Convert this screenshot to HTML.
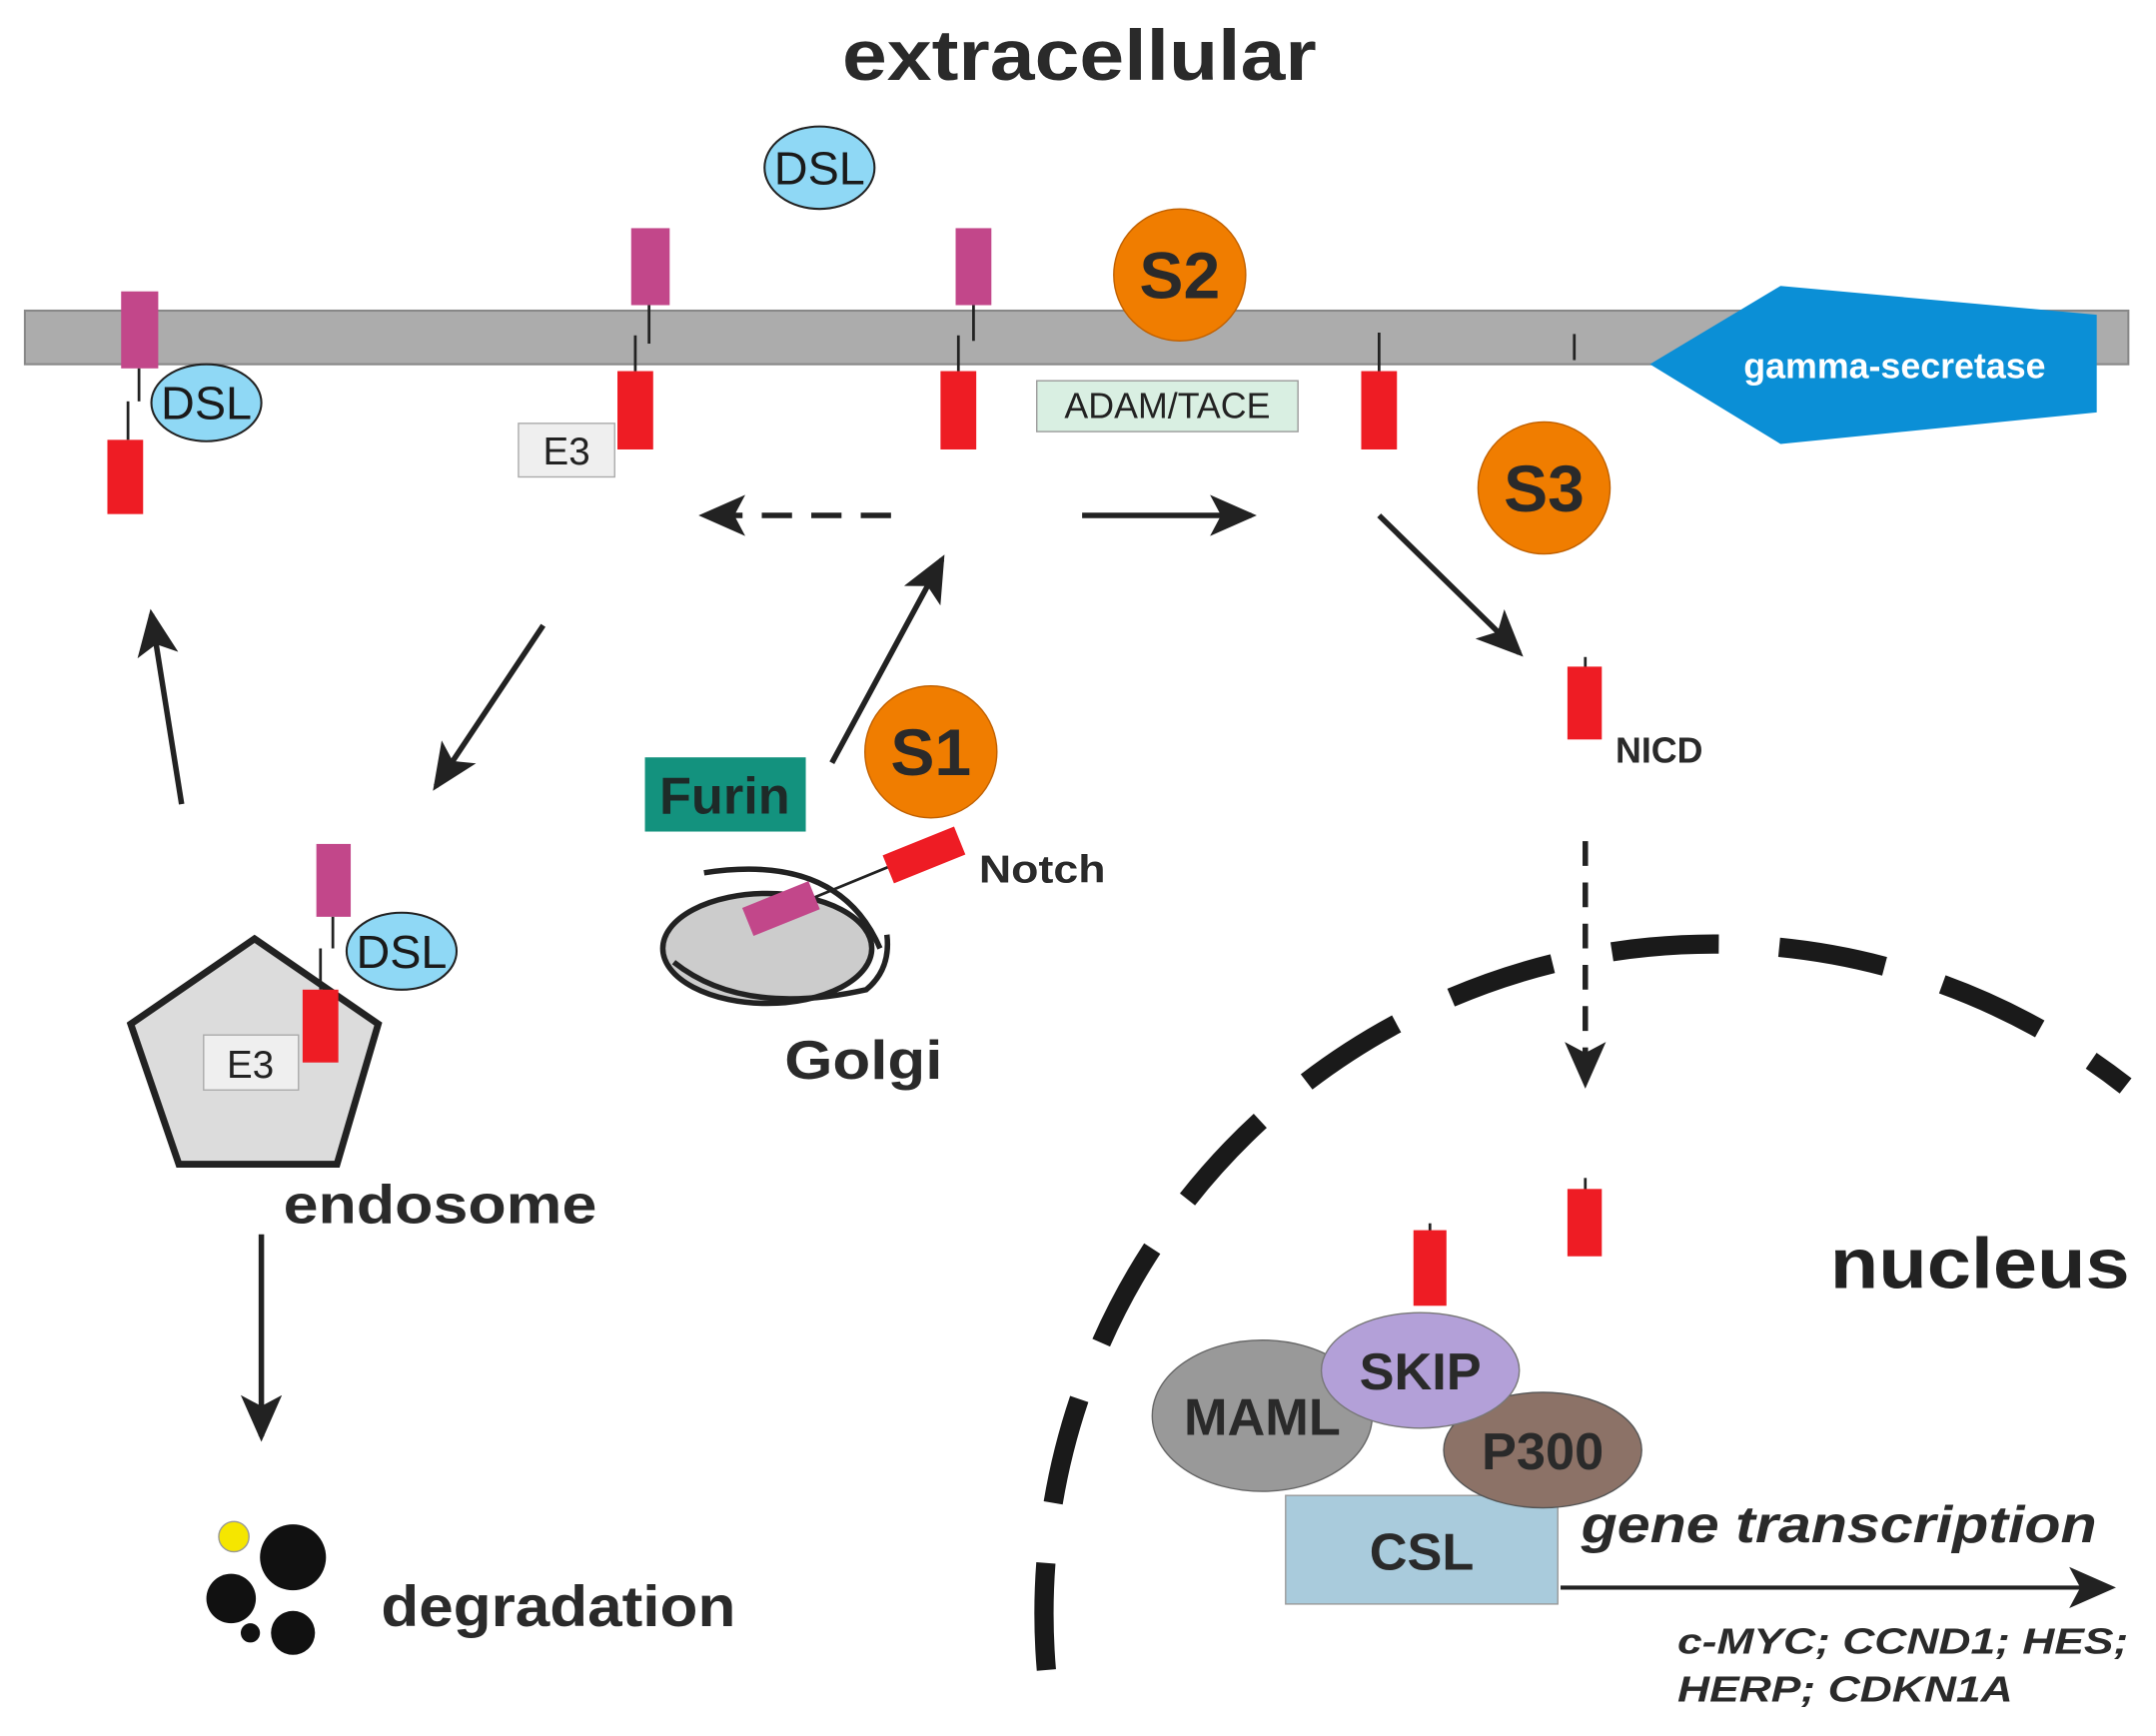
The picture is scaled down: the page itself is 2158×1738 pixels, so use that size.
<!DOCTYPE html>
<html><head><meta charset="utf-8"><style>html,body{margin:0;padding:0;background:#fff}svg{display:block}</style></head>
<body>
<svg width="2158" height="1738" viewBox="0 0 1568 1263" xmlns="http://www.w3.org/2000/svg" font-family="Liberation Sans, sans-serif">
<defs>
<marker id="ahb" markerWidth="36" markerHeight="30" refX="30" refY="15" orient="auto" markerUnits="userSpaceOnUse"><path d="M0,0 L34,15 L0,30 L8,15 z" fill="#222"/></marker>
</defs>
<rect width="1568" height="1263" fill="#fff"/>
<text x="785" y="58" text-anchor="middle" font-size="52" font-weight="bold" fill="#2a2a2a" textLength="345" lengthAdjust="spacingAndGlyphs">extracellular</text>
<rect x="18" y="226" width="1530" height="39" fill="#acacac" stroke="#888" stroke-width="1.5"/>
<polygon points="1200,265 1295,208 1525,229 1525,300 1295,323" fill="#0b8fd6"/>
<text x="1378" y="275" text-anchor="middle" font-size="26" font-weight="bold" fill="#fff">gamma-secretase</text>
<ellipse cx="596" cy="122" rx="40" ry="30" fill="#8fd8f5" stroke="#222" stroke-width="1.5"/>
<text x="596" y="134" text-anchor="middle" font-size="34" fill="#1a1a1a">DSL</text>
<rect x="88" y="212" width="27" height="56" fill="#c2478a"/>
<line x1="101" y1="268" x2="101" y2="292" stroke="#222" stroke-width="2"/>
<line x1="93" y1="292" x2="93" y2="320" stroke="#222" stroke-width="2"/>
<ellipse cx="150" cy="293" rx="40" ry="28" fill="#8fd8f5" stroke="#222" stroke-width="1.5"/>
<text x="150" y="305" text-anchor="middle" font-size="34" fill="#1a1a1a">DSL</text>
<rect x="78" y="320" width="26" height="54" fill="#ee1c24"/>
<rect x="459" y="166" width="28" height="56" fill="#c2478a"/>
<line x1="472" y1="222" x2="472" y2="250" stroke="#222" stroke-width="2"/>
<line x1="462" y1="244" x2="462" y2="270" stroke="#222" stroke-width="2"/>
<rect x="449" y="270" width="26" height="57" fill="#ee1c24"/>
<rect x="377" y="308" width="70" height="39" fill="#efefef" stroke="#aaa"/>
<text x="412" y="338" text-anchor="middle" font-size="28" fill="#222">E3</text>
<rect x="695" y="166" width="26" height="56" fill="#c2478a"/>
<line x1="708" y1="222" x2="708" y2="248" stroke="#222" stroke-width="2"/>
<line x1="697" y1="244" x2="697" y2="270" stroke="#222" stroke-width="2"/>
<rect x="684" y="270" width="26" height="57" fill="#ee1c24"/>
<rect x="754" y="277" width="190" height="37" fill="#d9efe2" stroke="#999"/>
<text x="849" y="304" text-anchor="middle" font-size="26" fill="#222">ADAM/TACE</text>
<line x1="1003" y1="242" x2="1003" y2="270" stroke="#222" stroke-width="2"/>
<rect x="990" y="270" width="26" height="57" fill="#ee1c24"/>
<line x1="1145" y1="243" x2="1145" y2="262" stroke="#222" stroke-width="2"/>
<circle cx="858" cy="200" r="48" fill="#f07d00" stroke="#c06000"/>
<text x="858" y="217" text-anchor="middle" font-size="48" font-weight="bold" fill="#2a2a2a">S2</text>
<circle cx="1123" cy="355" r="48" fill="#f07d00" stroke="#c06000"/>
<text x="1123" y="372" text-anchor="middle" font-size="48" font-weight="bold" fill="#2a2a2a">S3</text>
<circle cx="677" cy="547" r="48" fill="#f07d00" stroke="#c06000"/>
<text x="677" y="564" text-anchor="middle" font-size="48" font-weight="bold" fill="#2a2a2a">S1</text>
<g stroke="#222" stroke-width="4" fill="none">
<line x1="648" y1="375" x2="512" y2="375" stroke-dasharray="22,14" marker-end="url(#ahb)"/>
<line x1="787" y1="375" x2="910" y2="375" marker-end="url(#ahb)"/>
<line x1="1003" y1="375" x2="1105" y2="475" marker-end="url(#ahb)"/>
<line x1="605" y1="555" x2="685" y2="407" marker-end="url(#ahb)"/>
<line x1="395" y1="455" x2="317" y2="572" marker-end="url(#ahb)"/>
<line x1="132" y1="585" x2="110" y2="447" marker-end="url(#ahb)"/>
<line x1="190" y1="898" x2="190" y2="1045" marker-end="url(#ahb)"/>
<line x1="1153" y1="612" x2="1153" y2="788" stroke-dasharray="18,12" marker-end="url(#ahb)"/>
</g>
<line x1="1153" y1="478" x2="1153" y2="486" stroke="#222" stroke-width="2"/>
<rect x="1140" y="485" width="25" height="53" fill="#ee1c24"/>
<text x="1175" y="555" font-size="26" font-weight="bold" fill="#2a2a2a">NICD</text>
<line x1="1153" y1="857" x2="1153" y2="866" stroke="#222" stroke-width="2"/>
<rect x="1140" y="865" width="25" height="49" fill="#ee1c24"/>
<path d="M761,1215 A487,487 0 0 1 1546,790" fill="none" stroke="#1a1a1a" stroke-width="14" stroke-dasharray="78,44"/>
<text x="1440" y="937" text-anchor="middle" font-size="52" font-weight="bold" fill="#222" textLength="218" lengthAdjust="spacingAndGlyphs">nucleus</text>
<rect x="935" y="1088" width="198" height="79" fill="#a9cbdc" stroke="#999"/>
<text x="1034" y="1142" text-anchor="middle" font-size="38" font-weight="bold" fill="#2a2a2a">CSL</text>
<ellipse cx="918" cy="1030" rx="80" ry="55" fill="#999" stroke="#666"/>
<text x="918" y="1044" text-anchor="middle" font-size="38" font-weight="bold" fill="#2a2a2a">MAML</text>
<ellipse cx="1122" cy="1055" rx="72" ry="42" fill="#8c7267" stroke="#555"/>
<text x="1122" y="1069" text-anchor="middle" font-size="38" font-weight="bold" fill="#2a2a2a">P300</text>
<line x1="1040" y1="890" x2="1040" y2="896" stroke="#222" stroke-width="2"/>
<rect x="1028" y="895" width="24" height="55" fill="#ee1c24"/>
<ellipse cx="1033" cy="997" rx="72" ry="42" fill="#b3a0d8" stroke="#777"/>
<text x="1033" y="1011" text-anchor="middle" font-size="38" font-weight="bold" fill="#2a2a2a">SKIP</text>
<line x1="1135" y1="1155" x2="1535" y2="1155" stroke="#222" stroke-width="3" marker-end="url(#ahb)"/>
<text x="1150" y="1122" font-size="38" font-weight="bold" font-style="italic" fill="#2a2a2a" textLength="375" lengthAdjust="spacingAndGlyphs">gene transcription</text>
<text x="1220" y="1203" font-size="26" font-weight="bold" font-style="italic" fill="#2a2a2a" textLength="328" lengthAdjust="spacingAndGlyphs">c-MYC; CCND1; HES;</text>
<text x="1220" y="1238" font-size="26" font-weight="bold" font-style="italic" fill="#2a2a2a" textLength="244" lengthAdjust="spacingAndGlyphs">HERP; CDKN1A</text>
<rect x="469" y="551" width="117" height="54" fill="#13927e"/>
<text x="527" y="592" text-anchor="middle" font-size="38" font-weight="bold" fill="#1e2a28">Furin</text>
<ellipse cx="558" cy="690" rx="76" ry="40" fill="#ccc" stroke="#222" stroke-width="4"/>
<path d="M512,635 Q610,620 640,690" fill="none" stroke="#222" stroke-width="4"/>
<path d="M490,700 Q540,740 630,720 Q648,705 645,680" fill="none" stroke="#222" stroke-width="4"/>
<line x1="575" y1="660" x2="660" y2="625" stroke="#222" stroke-width="2"/>
<rect x="-26" y="-11" width="52" height="22" fill="#c2478a" transform="translate(568,661) rotate(-22)"/>
<rect x="-28" y="-11" width="56" height="22" fill="#ee1c24" transform="translate(672,622) rotate(-22)"/>
<text x="712" y="642" font-size="28" font-weight="bold" fill="#2a2a2a" textLength="92" lengthAdjust="spacingAndGlyphs">Notch</text>
<text x="628" y="785" text-anchor="middle" font-size="40" font-weight="bold" fill="#2a2a2a" textLength="115" lengthAdjust="spacingAndGlyphs">Golgi</text>
<polygon points="185,683 275,745 245,847 130,847 95,745" fill="#dcdcdc" stroke="#222" stroke-width="5"/>
<rect x="230" y="614" width="25" height="53" fill="#c2478a"/>
<line x1="242" y1="667" x2="242" y2="690" stroke="#222" stroke-width="2"/>
<line x1="233" y1="690" x2="233" y2="720" stroke="#222" stroke-width="2"/>
<ellipse cx="292" cy="692" rx="40" ry="28" fill="#8fd8f5" stroke="#222" stroke-width="1.5"/>
<text x="292" y="704" text-anchor="middle" font-size="34" fill="#1a1a1a">DSL</text>
<rect x="148" y="753" width="69" height="40" fill="#efefef" stroke="#aaa"/>
<text x="182" y="784" text-anchor="middle" font-size="28" fill="#222">E3</text>
<rect x="220" y="720" width="26" height="53" fill="#ee1c24"/>
<text x="320" y="890" text-anchor="middle" font-size="40" font-weight="bold" fill="#2a2a2a" textLength="228" lengthAdjust="spacingAndGlyphs">endosome</text>
<circle cx="213" cy="1133" r="24" fill="#111"/>
<circle cx="168" cy="1163" r="18" fill="#111"/>
<circle cx="213" cy="1188" r="16" fill="#111"/>
<circle cx="182" cy="1188" r="7" fill="#111"/>
<circle cx="170" cy="1118" r="11" fill="#f5e600" stroke="#999"/>
<text x="406" y="1183" text-anchor="middle" font-size="42" font-weight="bold" fill="#2a2a2a" textLength="258" lengthAdjust="spacingAndGlyphs">degradation</text>
</svg>
</body></html>
